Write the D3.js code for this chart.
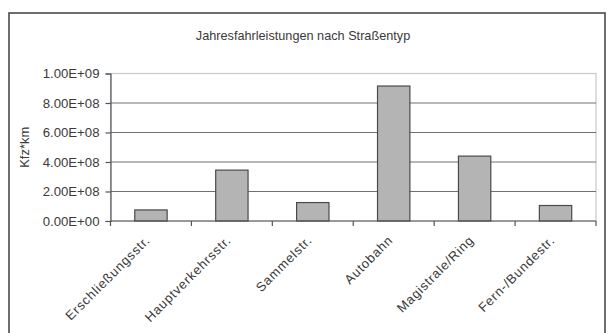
<!DOCTYPE html>
<html>
<head>
<meta charset="utf-8">
<script src="https://cdn.jsdelivr.net/npm/d3@7"></script>
<style>
  html, body { margin: 0; padding: 0; background: #ffffff; }
  svg { display: block; }
  text { font-family: "Liberation Sans", Arial, sans-serif; fill: #3a3a3a; }
</style>
</head>
<body>
<svg id="chart" width="607" height="333"></svg>
<script>
// Annual vehicle kilometres by road type
const categories = ["Erschließungsstr.", "Hauptverkehrsstr.", "Sammelstr.", "Autobahn", "Magistrale/Ring", "Fern-/Bundestr."];
const values = [7.5e7, 3.45e8, 1.25e8, 9.15e8, 4.4e8, 1.05e8];
const yTicks = [0, 2e8, 4e8, 6e8, 8e8, 1e9];
const yTickLabels = ["0.00E+00", "2.00E+08", "4.00E+08", "6.00E+08", "8.00E+08", "1.00E+09"];
const chartTitle = "Jahresfahrleistungen nach Straßentyp";
const yTitle = "Kfz*km";

const svg = d3.select("#chart");
const W = 607, H = 333;
const plot = { left: 110.5, right: 596, top: 73.5, bottom: 221 };

// outer chart frame
svg.append("rect")
  .attr("x", 9).attr("y", 13)
  .attr("width", 596).attr("height", H + 10)
  .attr("fill", "#ffffff")
  .attr("stroke", "#4a4a4a").attr("stroke-width", 1.6);

const x = d3.scaleBand().domain(categories).range([plot.left, plot.right]).padding(0);
const y = d3.scaleLinear().domain([0, 1e9]).range([plot.bottom, plot.top]);
const barW = x.bandwidth() / 2.5;

// plot area border (light)
svg.append("rect")
  .attr("x", plot.left).attr("y", plot.top)
  .attr("width", plot.right - plot.left).attr("height", plot.bottom - plot.top)
  .attr("fill", "#ffffff")
  .attr("stroke", "#c8c8c8").attr("stroke-width", 1.2);

// horizontal gridlines
svg.append("g")
  .selectAll("line")
  .data(yTicks.filter(d => d > 0))
  .join("line")
  .attr("x1", plot.left).attr("x2", plot.right)
  .attr("y1", d => y(d)).attr("y2", d => y(d))
  .attr("stroke", d => d === 1e9 ? "#c8c8c8" : "#707070")
  .attr("stroke-width", 1.2);

// bars
svg.append("g")
  .selectAll("rect")
  .data(values)
  .join("rect")
  .attr("x", (d, i) => x(categories[i]) + (x.bandwidth() - barW) / 2)
  .attr("y", d => y(d))
  .attr("width", barW)
  .attr("height", d => y(0) - y(d))
  .attr("fill", "#b4b4b4")
  .attr("stroke", "#4a4a4a")
  .attr("stroke-width", 1.2);

// y axis
const yAxis = d3.axisLeft(y)
  .tickValues(yTicks)
  .tickFormat((d, i) => yTickLabels[i])
  .tickSize(5)
  .tickPadding(6);
const gy = svg.append("g").attr("transform", `translate(${plot.left},0)`).call(yAxis);
gy.select(".domain").attr("stroke", "#555").attr("stroke-width", 1.2);
gy.selectAll(".tick line").attr("stroke", "#555").attr("stroke-width", 1.2);
gy.selectAll(".tick text")
  .attr("font-size", "13.2px")
  .attr("fill", "#3a3a3a")
  .style("font-family", "'Liberation Sans', Arial, sans-serif");

// x axis with ticks between categories
const gx = svg.append("g").attr("transform", `translate(0,${plot.bottom})`);
gx.append("line")
  .attr("x1", plot.left).attr("x2", plot.right)
  .attr("y1", 0).attr("y2", 0)
  .attr("stroke", "#555").attr("stroke-width", 1.2);
gx.selectAll("line.tk")
  .data(categories.map((c, i) => i).concat([categories.length]))
  .join("line")
  .attr("class", "tk")
  .attr("x1", i => i < categories.length ? x(categories[i]) : plot.right)
  .attr("x2", i => i < categories.length ? x(categories[i]) : plot.right)
  .attr("y1", 0).attr("y2", 5)
  .attr("stroke", "#555").attr("stroke-width", 1.2);

// rotated category labels
gx.selectAll("text.cat")
  .data(categories)
  .join("text")
  .attr("class", "cat")
  .attr("text-anchor", "end")
  .attr("font-size", "13px")
  .attr("letter-spacing", "0.8px")
  .attr("transform", d => `translate(${x(d) + x.bandwidth() / 2},${20}) rotate(-45)`)
  .text(d => d);

// title
svg.append("text")
  .attr("x", 303).attr("y", 40)
  .attr("text-anchor", "middle")
  .attr("font-size", "12.7px")
  .text(chartTitle);

// y axis title
svg.append("text")
  .attr("transform", `translate(29,${(plot.top + plot.bottom) / 2}) rotate(-90)`)
  .attr("text-anchor", "middle")
  .attr("font-size", "13px")
  .text(yTitle);
</script>
</body>
</html>
